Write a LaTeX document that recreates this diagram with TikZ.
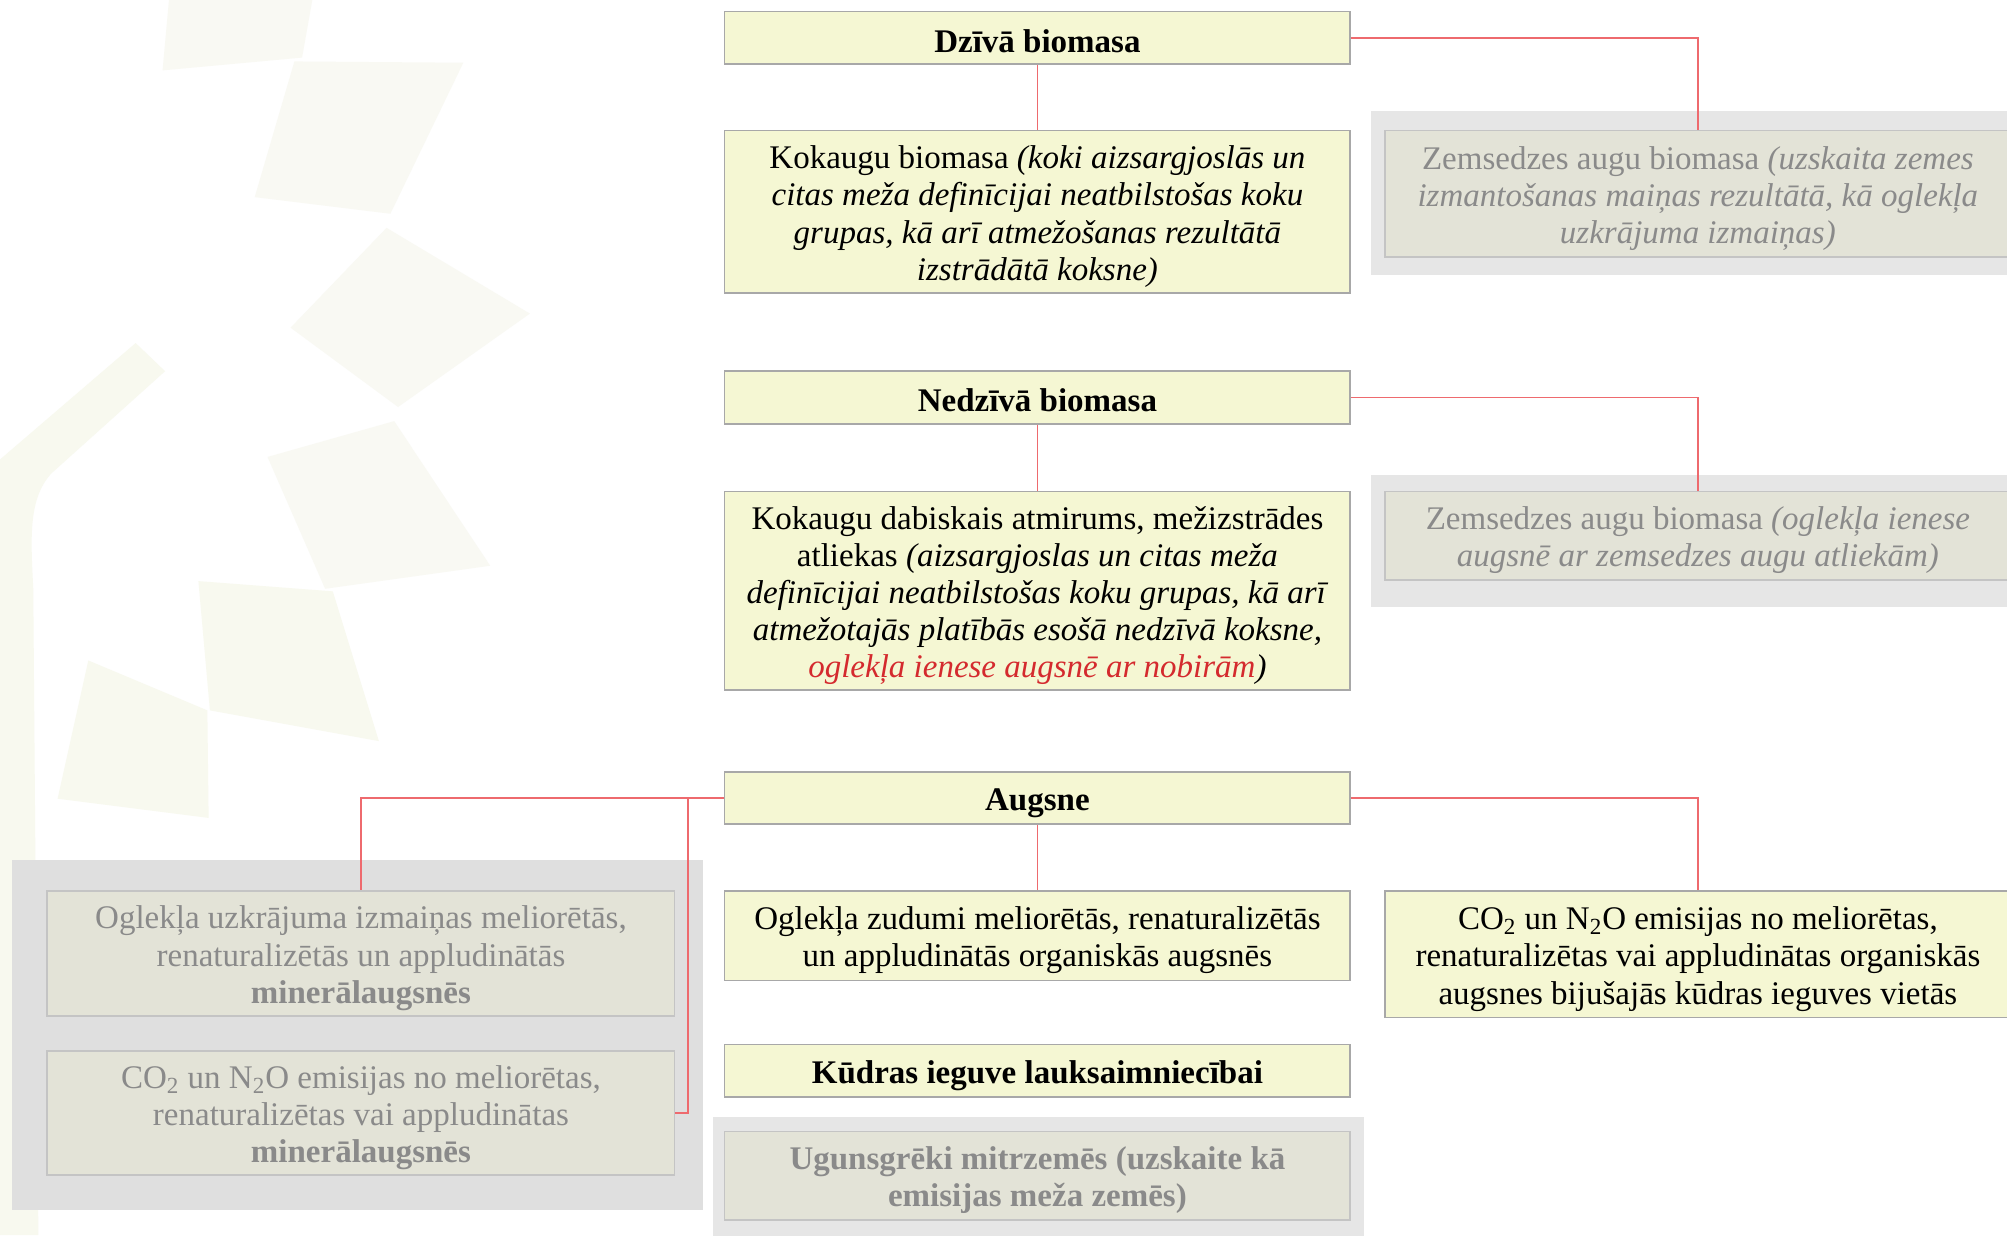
\documentclass[tikz,border=0pt]{standalone}
\usepackage{fontspec}
\setmainfont{Liberation Serif}
\definecolor{boxy}{HTML}{F5F7D3}
\definecolor{boxyline}{HTML}{A8A8A8}
\definecolor{boxg}{HTML}{E3E3D7}
\definecolor{boxgline}{HTML}{C4C4C4}
\definecolor{panelg}{HTML}{E6E6E6}
\definecolor{panelgl}{HTML}{DFDFDF}
\definecolor{txtg}{HTML}{8A8A8A}
\definecolor{connred}{HTML}{EE6A6E}
\definecolor{txtred}{HTML}{D42A2E}
\definecolor{bgshape}{HTML}{F9F9F3}
\definecolor{bgshapeb}{HTML}{F8F9EF}
\def\un{0.64pt}
\newcommand\tstrut{\rule{0pt}{16.2pt}}
\newcommand\hstrut{\rule{0pt}{14.5pt}}
\begin{document}
\begin{tikzpicture}[x=0.64pt,y=-0.64pt,
  every node/.style={font=\fontsize{16.5}{18.6}\selectfont, align=center, inner sep=0pt},
  ybox/.style={draw=boxyline, line width=0.9pt, fill=boxy, text=black, minimum width=489*\un},
  gbox/.style={draw=boxgline, line width=0.9pt, fill=boxg, text=txtg, minimum width=489*\un},
  panel/.style={fill=panelg, draw=none},
  conn/.style={draw=connred, line width=0.8pt}]
\useasboundingbox (0,0) rectangle (1568,965);
\fill[white] (0,0) rectangle (1568,965);
% faint background shapes
\fill[bgshape] (132,0) -- (244,0) -- (236,45) -- (127,55) -- cycle;
\fill[bgshape] (230,48) -- (362,49) -- (305,167) -- (199,154) -- cycle;
\fill[bgshape] (302,178) -- (414,245) -- (311,318) -- (227,256) -- cycle;
\fill[bgshape] (209,357) -- (308,329) -- (383,442) -- (254,460) -- cycle;
\fill[bgshapeb] (155,454) -- (260,462) -- (296,579) -- (164,555) -- cycle;
\fill[bgshapeb] (69,516) -- (162,555) -- (163,639) -- (45,624) -- cycle;
\fill[bgshapeb] (0,359) -- (106,268) -- (129,290) -- (40,370) .. controls (22,390) and (24,420) .. (26,460) -- (30,965) -- (0,965) -- cycle;
% panels
\node[panel, minimum width=511*\un, minimum height=128*\un] (p1) at (1326.5,151) {};
\node[panel, minimum width=511*\un, minimum height=103*\un] (p2) at (1326.5,422.5) {};
\node[panel, fill=panelgl, minimum width=540*\un, minimum height=273*\un] (p3) at (279,808.5) {};
\node[panel, minimum width=509*\un, minimum height=102*\un] (p4) at (811.5,924) {};
% boxes
\node[ybox, minimum height=41*\un] (dziva) at (810.5,29.5) {\hstrut\textbf{Dzīvā biomasa}};
\node[ybox, minimum height=127*\un] (kokb) at (810.5,165.5) {\tstrut Kokaugu biomasa \textit{(koki aizsargjoslās un}\\ \textit{citas meža definīcijai neatbilstošas koku}\\ \textit{grupas, kā arī atmežošanas rezultātā}\\ \textit{izstrādātā koksne)}};
\node[gbox, minimum height=99*\un] (zem1) at (1326.5,151.5) {\tstrut Zemsedzes augu biomasa \textit{(uzskaita zemes}\\ \textit{izmantošanas maiņas rezultātā, kā oglekļa}\\ \textit{uzkrājuma izmaiņas)}};
\node[ybox, minimum height=41*\un] (nedz) at (810.5,310.5) {\hstrut\textbf{Nedzīvā biomasa}};
\node[ybox, minimum height=155*\un] (koka) at (810.5,461.5) {\tstrut Kokaugu dabiskais atmirums, mežizstrādes\\ atliekas \textit{(aizsargjoslas un citas meža}\\ \textit{definīcijai neatbilstošas koku grupas, kā arī}\\ \textit{atmežotajās platībās esošā nedzīvā koksne,}\\ \textit{\textcolor{txtred}{oglekļa ienese augsnē ar nobirām})}};
\node[gbox, minimum height=69*\un] (zem2) at (1326.5,418.5) {\tstrut Zemsedzes augu biomasa \textit{(oglekļa ienese}\\ \textit{augsnē ar zemsedzes augu atliekām)}};
\node[ybox, minimum height=41*\un] (augs) at (810.5,623.5) {\tstrut\textbf{Augsne}};
\node[ybox, minimum height=70*\un] (ogl) at (810.5,731) {\tstrut Oglekļa zudumi meliorētās, renaturalizētās\\ un appludinātās organiskās augsnēs};
\node[ybox, minimum height=99*\un] (co2r) at (1326.5,745.5) {\tstrut CO\textsubscript{2} un N\textsubscript{2}O emisijas no meliorētas,\\ renaturalizētas vai appludinātas organiskās\\ augsnes bijušajās kūdras ieguves vietās};
\node[gbox, minimum width=490*\un, minimum height=98*\un] (ogm) at (282,745) {\tstrut Oglekļa uzkrājuma izmaiņas meliorētās,\\ renaturalizētās un appludinātās\\ \textbf{minerālaugsnēs}};
\node[gbox, minimum width=490*\un, minimum height=97*\un] (co2m) at (282,869.5) {\tstrut CO\textsubscript{2} un N\textsubscript{2}O emisijas no meliorētas,\\ renaturalizētas vai appludinātas\\ \textbf{minerālaugsnēs}};
\node[ybox, minimum height=41*\un] (kudr) at (810.5,836.5) {\tstrut\textbf{Kūdras ieguve lauksaimniecībai}};
\node[gbox, minimum height=69*\un] (ugun) at (810.5,918.5) {\tstrut\textbf{Ugunsgrēki mitrzemēs (uzskaite kā}\\ \textbf{emisijas meža zemēs)}};
% connectors
\draw[conn] (dziva.south) -- (kokb.north);
\draw[conn] (dziva.east) -| (zem1.north);
\draw[conn] (nedz.south) -- (koka.north);
\draw[conn] (nedz.east) -| (zem2.north);
\draw[conn] (augs.south) -- (ogl.north);
\draw[conn] (augs.east) -| (co2r.north);
\draw[conn] (augs.west) -| (ogm.north);
\draw[conn] (augs.west) -- ++(-28,0) |- (co2m.east);
\end{tikzpicture}
\end{document}
